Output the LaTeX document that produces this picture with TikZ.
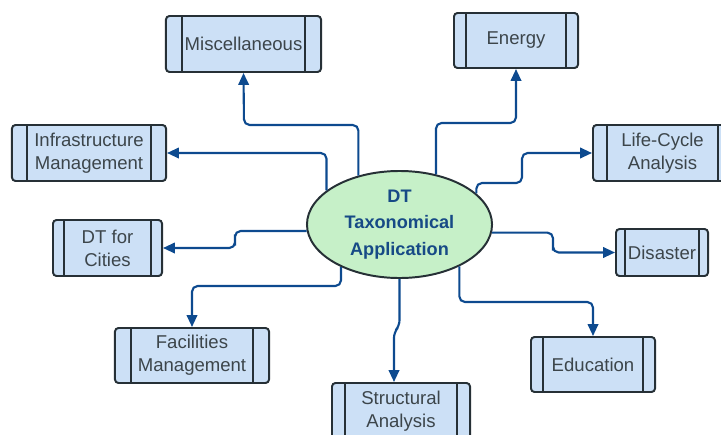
\documentclass[tikz,border=0pt]{standalone}
\usepackage{fontspec}
\setmainfont{Liberation Sans}
\usepackage{tikz}
\usetikzlibrary{arrows.meta,shapes.geometric}
\definecolor{boxfill}{HTML}{CCE0F6}
\definecolor{boxline}{HTML}{263036}
\definecolor{connblue}{HTML}{0D4A8F}
\definecolor{ovalfill}{HTML}{C6F0C8}
\definecolor{ovaltext}{HTML}{174A86}
\tikzset{
	procbox/.style={draw=boxline, fill=boxfill, line width=1.4pt, rounded corners=2.5pt,
		align=center, inner sep=0pt, text=boxline!90,
		font=\fontsize{13.2}{16.5}\selectfont,
		path picture={\draw[boxline, line width=1.4pt]
			([xshift=#1]path picture bounding box.north west) -- ([xshift=#1]path picture bounding box.south west)
			([xshift=-#1]path picture bounding box.north east) -- ([xshift=-#1]path picture bounding box.south east);}},
	procbox/.default=0.35cm,
	conn/.style={draw=connblue, line width=1.5pt, rounded corners=4pt, -{Triangle[length=8.5pt,width=7.5pt]}}
}

\begin{document}
\begin{tikzpicture}[x=0.025cm, y=-0.025cm]

					\useasboundingbox (0,0) rectangle (721,434);

					\node[ellipse, draw=boxline, fill=ovalfill, line width=1.4pt, minimum width=4.625cm, minimum height=2.675cm,
						inner sep=0pt, align=center, text=ovaltext, font=\bfseries\fontsize{12.9}{18.8}\selectfont]
						(dt) at (399.5,224.5) {DT\\Taxonomical\\Application};

					\node[procbox=0.4cm, minimum width=3.875cm, minimum height=1.4cm] (misc) at (243.5,44) {Miscellaneous};
					\node[procbox=0.375cm, minimum width=3.85cm, minimum height=1.4cm] (infra) at (89,153) {Infrastructure\\Management};
					\node[procbox=0.31cm, minimum width=3.1cm, minimum height=1.375cm] (energy) at (516,40.5) {Energy};
					\node[procbox=0.35cm, minimum width=3.475cm, minimum height=1.4cm] (life) at (662.5,153) {Life-Cycle\\Analysis};
					\node[procbox=0.275cm, minimum width=2.725cm, minimum height=1.4cm] (cities) at (107.5,248) {DT for\\Cities};
					\node[procbox=0.39cm, minimum width=3.85cm, minimum height=1.375cm] (facil) at (192,355.5) {Facilities\\Management};
					\node[procbox=0.325cm, minimum width=3.45cm, minimum height=1.4cm] (struct) at (401,411) {Structural\\Analysis};
					\node[procbox=0.225cm, minimum width=2.3cm, minimum height=1.175cm] (disaster) at (662,252.5) {Disaster};
					\node[procbox=0.31cm, minimum width=3.1cm, minimum height=1.375cm] (educ) at (593,364.5) {Education};

					\draw[conn] (dt.130) |- (244,125) -- (misc.south);
					\draw[conn] (dt.155) |- (infra.east);
					\draw[conn] (dt.54) |- (516,123) -- (energy.south);
					\draw[conn] (dt.22) |- (522,183) |- (life.west);
					\draw[conn] (dt.184) -| (235,240) |- (cities.east);
					\draw[conn] (dt.216) |- (192,286) -- (facil.north);
					\draw[conn] (dt.south) -- (399.5,326) -- (394,332) -- ([xshift=-0.175cm]struct.north);
					\draw[conn] (dt.355) -| (553,245) |- (disaster.west);
					\draw[conn] (dt.325) |- (593,302) -- (educ.north);

\end{tikzpicture}
\end{document}
